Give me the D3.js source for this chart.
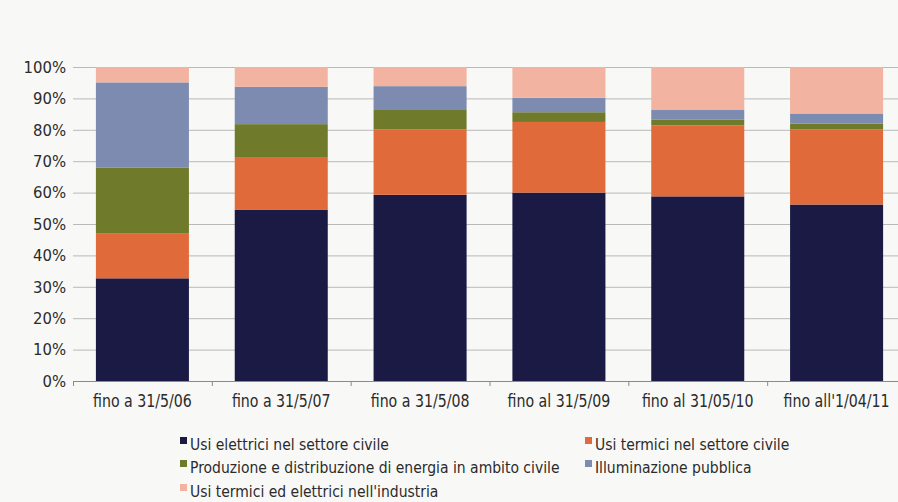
<!DOCTYPE html>
<html>
<head>
<meta charset="utf-8">
<script src="https://cdn.jsdelivr.net/npm/d3@7"></script>
<style>
  body { margin: 0; background: #f8f8f7; }
  svg text { font-family: 'DejaVu Sans Condensed', sans-serif; fill: #2b2b2b; }
</style>
</head>
<body>
<div id="chart"></div>
<script>
const categories = ['fino a 31/5/06', 'fino a 31/5/07', 'fino a 31/5/08', 'fino al 31/5/09', 'fino al 31/05/10', "fino all'1/04/11"];
const seriesNames = [
  'Usi elettrici nel settore civile',
  'Usi termici nel settore civile',
  'Produzione e distribuzione di energia in ambito civile',
  'Illuminazione pubblica',
  "Usi termici ed elettrici nell'industria",
];
const usiElettriciCivile = [32.7, 54.6, 59.3, 60.0, 58.8, 56.2];
const usiTermiciCivile = [14.4, 16.5, 20.8, 22.5, 22.6, 23.9];
const produzioneEnergia = [20.8, 10.7, 6.2, 3.1, 1.9, 1.9];
const illuminazione = [27.2, 11.9, 7.6, 4.6, 3.0, 3.2];
const industria = [4.9, 6.3, 6.1, 9.8, 13.7, 14.8];
const yTicks = [0, 10, 20, 30, 40, 50, 60, 70, 80, 90, 100];

const colors = ['#1b1a45', '#e06a3a', '#6f7b2b', '#7d8bb0', '#f2b3a0'];

const totalWidth = 898;
const totalHeight = 502;
const margin = { top: 67, right: -8, bottom: 121, left: 73 };
const width = totalWidth - margin.left - margin.right;
const height = totalHeight - margin.top - margin.bottom;

const series = [usiElettriciCivile, usiTermiciCivile, produzioneEnergia, illuminazione, industria];
const table = categories.map((c, i) => {
  const row = { category: c };
  seriesNames.forEach((s, j) => { row[s] = series[j][i]; });
  return row;
});
const stacked = d3.stack().keys(seriesNames)(table);

const xScale = d3.scaleBand().domain(categories).range([0, width]).paddingInner(0.33).paddingOuter(0.165);
const yScale = d3.scaleLinear().domain([0, 100]).range([height, 0]);

const svg = d3.select('#chart')
  .append('svg')
  .attr('width', totalWidth)
  .attr('height', totalHeight)
  .append('g')
  .attr('transform', `translate(${margin.left}, ${margin.top})`);

// Gridlines
svg.append('g')
  .selectAll('line')
  .data(yTicks.slice(1))
  .join('line')
  .attr('x1', 0)
  .attr('x2', width)
  .attr('y1', (d) => yScale(d) + 0.5)
  .attr('y2', (d) => yScale(d) + 0.5)
  .attr('stroke', '#b9b9b9')
  .attr('stroke-width', 1);

// y axis labels
svg.append('g')
  .call(d3.axisLeft(yScale).tickValues(yTicks).tickSize(0).tickPadding(7).tickFormat((d) => d + '%'))
  .call((g) => g.select('.domain').remove())
  .call((g) => g.selectAll('text').attr('font-size', 16.5));

// Bars
svg.append('g')
  .selectAll('g')
  .data(stacked)
  .join('g')
  .attr('fill', (d, i) => colors[i])
  .selectAll('rect')
  .data((d) => d)
  .join('rect')
  .attr('x', (d) => xScale(d.data.category))
  .attr('y', (d) => yScale(d[1]))
  .attr('width', xScale.bandwidth())
  .attr('height', (d) => yScale(d[0]) - yScale(d[1]));

// x axis
const xAxis = svg.append('g').attr('transform', `translate(0, ${height})`);
xAxis.append('line')
  .attr('x1', 0).attr('x2', width)
  .attr('y1', 0.5).attr('y2', 0.5)
  .attr('stroke', '#8a8a8a');
const gap = (xScale.step() - xScale.bandwidth()) / 2;
xAxis.selectAll('.tick-line')
  .data(categories)
  .join('line')
  .attr('x1', (d) => xScale(d) - gap + 0.5)
  .attr('x2', (d) => xScale(d) - gap + 0.5)
  .attr('y1', 0)
  .attr('y2', 5)
  .attr('stroke', '#8a8a8a');
xAxis.selectAll('.xlabel')
  .data(categories)
  .join('text')
  .attr('transform', (d) => `translate(${xScale(d) + xScale.bandwidth() / 2}, 26) scale(0.9, 1)`)
  .attr('text-anchor', 'middle')
  .attr('font-size', 17.5)
  .text((d) => d);

// Legend
const legendPos = [
  { x: 180, y: 450 },
  { x: 585, y: 450 },
  { x: 180, y: 473 },
  { x: 585, y: 473 },
  { x: 180, y: 497 },
];
const legend = d3.select('svg')
  .append('g')
  .selectAll('g')
  .data(seriesNames)
  .join('g')
  .attr('transform', (d, i) => `translate(${legendPos[i].x}, ${legendPos[i].y})`);
legend.append('rect')
  .attr('x', 0)
  .attr('y', -13)
  .attr('width', 7)
  .attr('height', 7)
  .attr('fill', (d, i) => colors[i]);
legend.append('text')
  .attr('transform', 'translate(10, 0) scale(0.94, 1)')
  .attr('font-size', 16.5)
  .text((d) => d);
</script>
</body>
</html>
